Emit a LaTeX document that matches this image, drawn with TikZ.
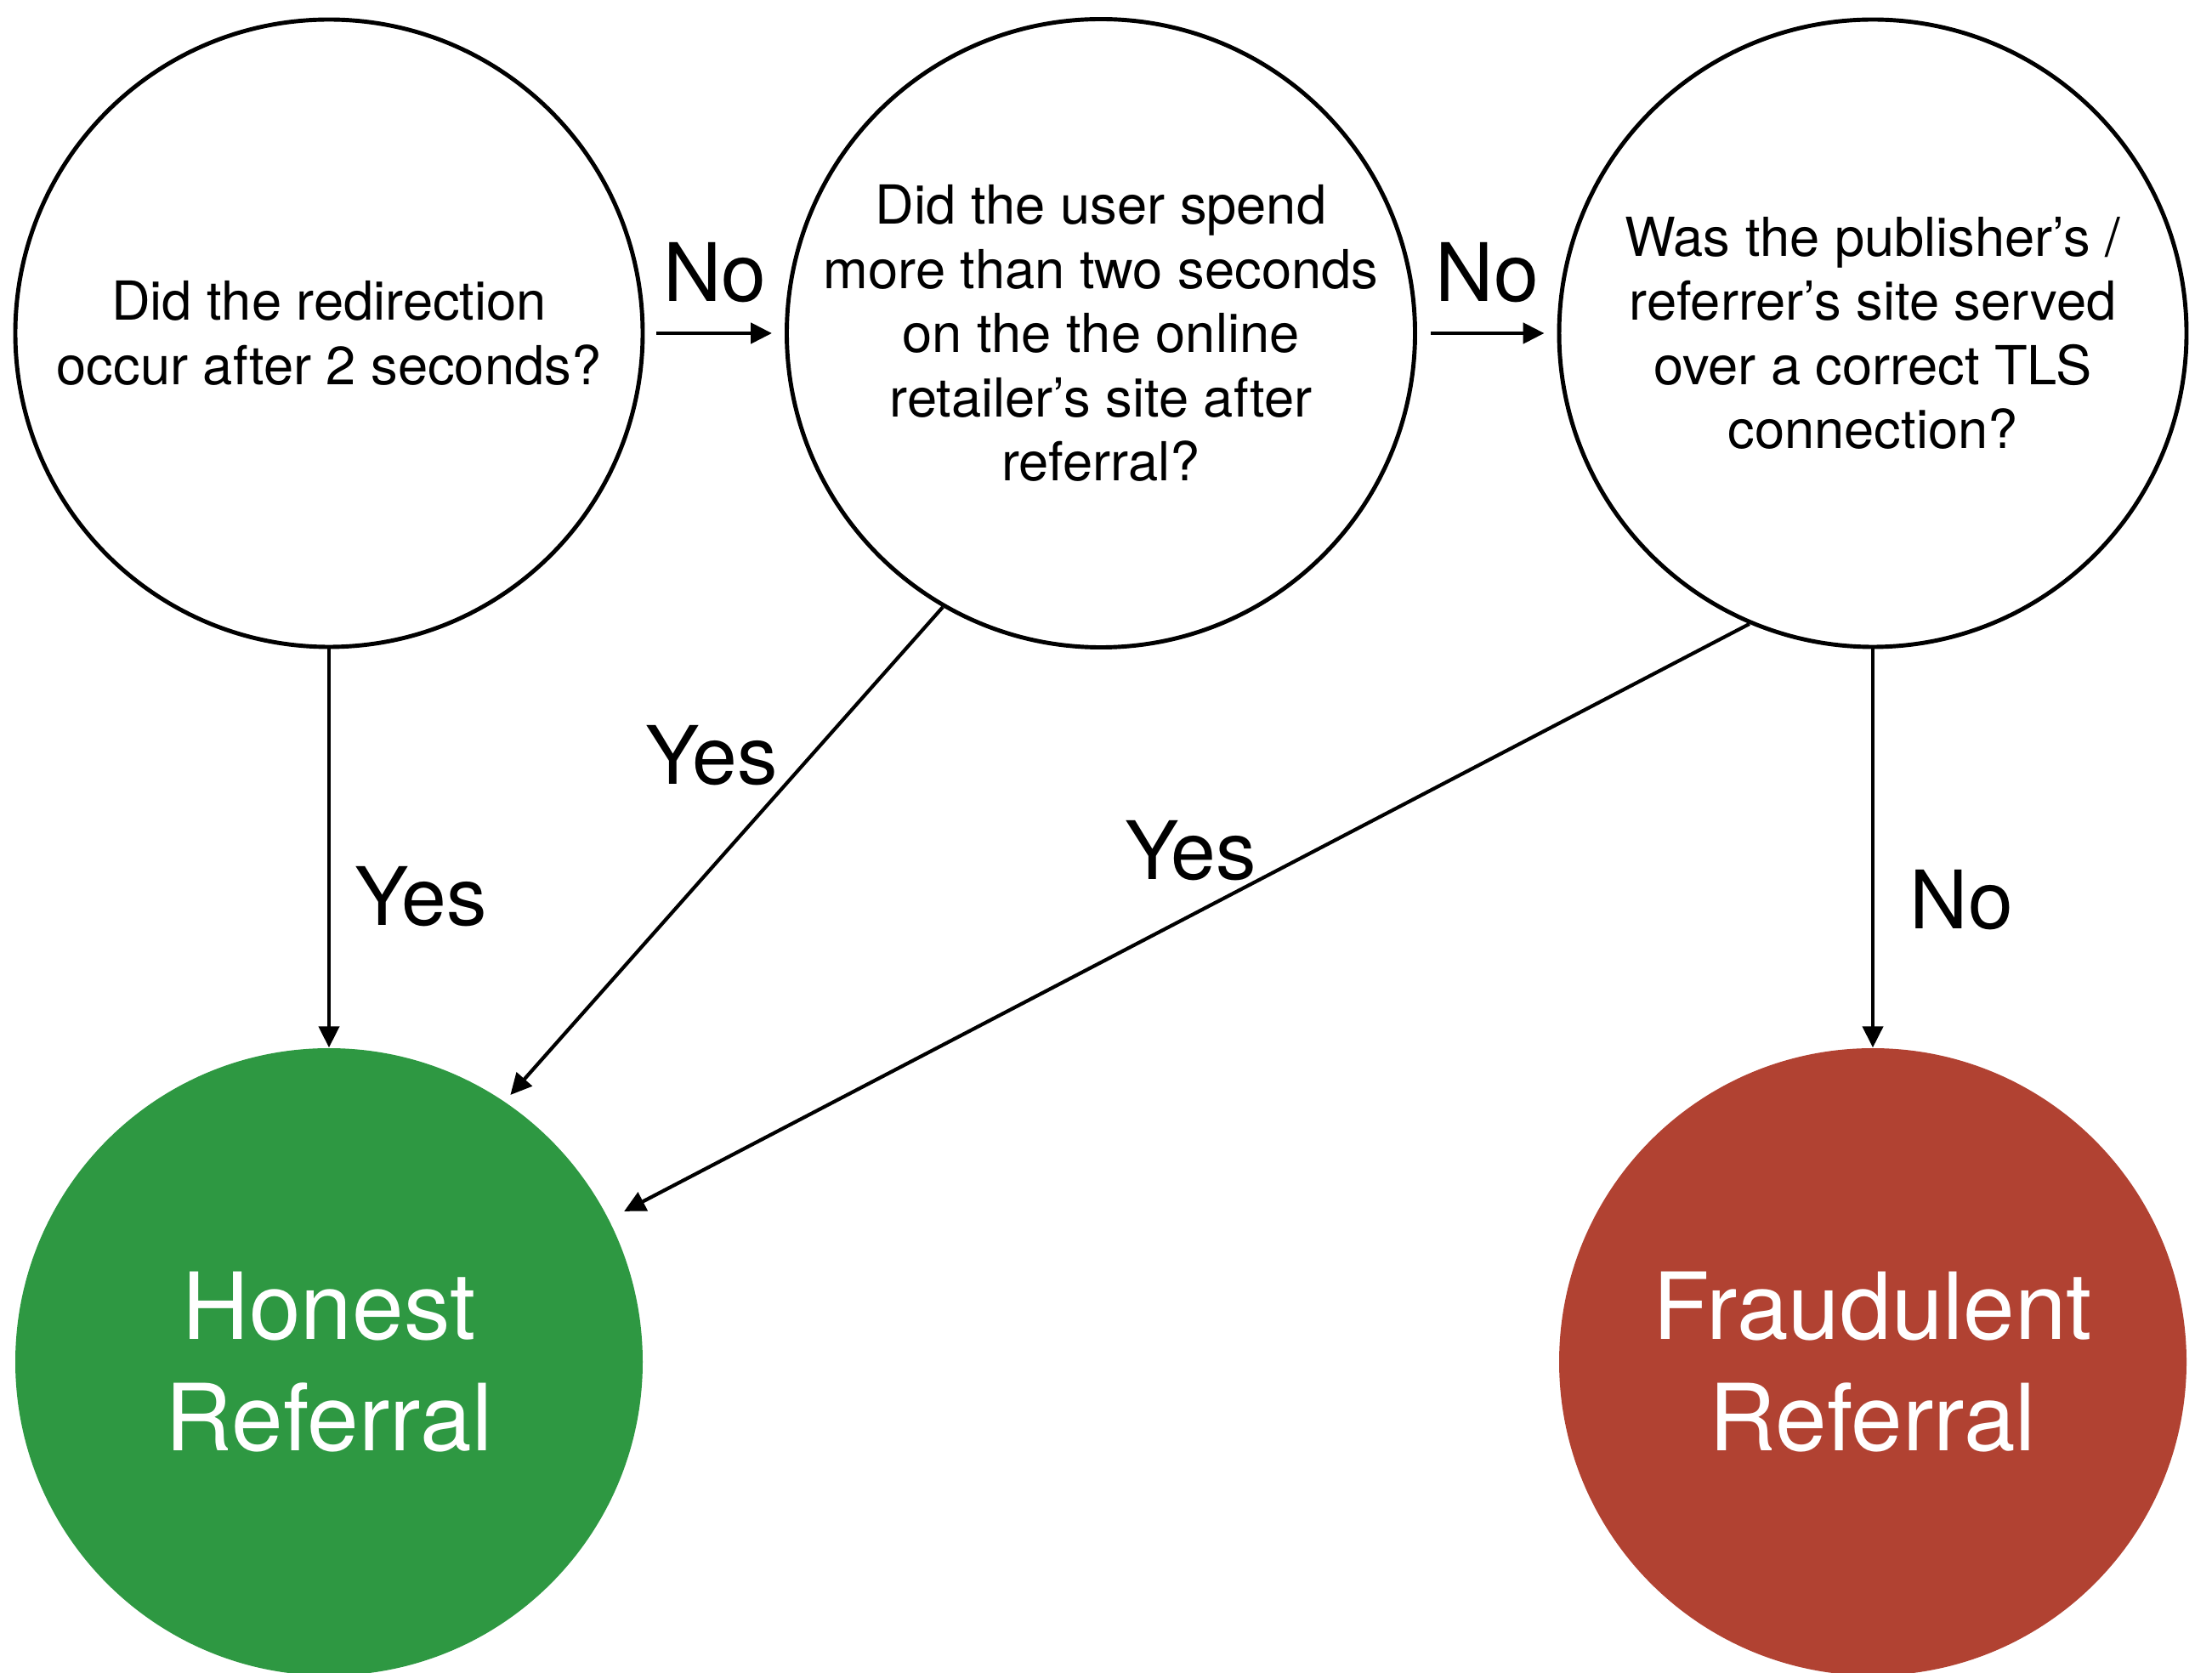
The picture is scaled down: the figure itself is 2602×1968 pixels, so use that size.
\documentclass[tikz,border=0pt]{standalone}
\usepackage{fontspec}
\setmainfont{TeX Gyre Heros}
\usetikzlibrary{arrows.meta}
\definecolor{honestgreen}{RGB}{46,152,66}
\definecolor{fraudred}{RGB}{177,66,50}
\begin{document}
\begin{tikzpicture}[x=0.1mm,y=-0.1mm,
  question/.style={circle,draw,line width=1.4pt,minimum size=73.8mm,inner sep=0pt,align=center,font=\fontsize{18}{21.5}\selectfont},
  verdict/.style={circle,minimum size=73.8mm,inner sep=0pt,align=center,text=white,font=\fontsize{31}{37.5}\selectfont},
  answer/.style={font=\fontsize{27}{32}\selectfont},
  flow/.style={-{Triangle[length=2.5mm,width=2.4mm]},line width=1.2pt}]
\useasboundingbox (0,0) rectangle (2602,1968);
\node[question] (q1) at (387,392) {Did the redirection\\occur after 2 seconds?};
\node[question] (q2) at (1295,392) {Did the user spend\\more than two seconds\\on the the online\\retailer’s site after\\referral?};
\node[question] (q3) at (2203,392) {Was the publisher’s /\\referrer’s site served\\over a correct TLS\\connection?};
\node[verdict,fill=honestgreen] (honest) at (387,1602) {Honest\\Referral};
\node[verdict,fill=fraudred] (fraud) at (2203,1602) {Fraudulent\\Referral};
\draw[flow,line width=1.4pt,shorten <=1.4mm,shorten >=1.5mm] (q1) -- node[answer,above=2.2mm]{No} (q2);
\draw[flow,line width=1.4pt,shorten <=1.6mm,shorten >=1.5mm] (q2) -- node[answer,above=2.2mm]{No} (q3);
\draw[flow] (q1) -- node[answer,pos=0.62,right=1.7mm]{Yes} (honest);
\draw[flow,shorten >=1mm] (q2.240) -- node[answer,pos=0.3,left=2.6mm]{Yes} (honest.56);
\draw[flow,shorten >=2mm] (q3.247) -- node[answer,pos=0.49,above=2.7mm]{Yes} (honest.27);
\draw[flow] (q3) -- node[answer,pos=0.63,right=3mm]{No} (fraud);
\end{tikzpicture}
\end{document}
